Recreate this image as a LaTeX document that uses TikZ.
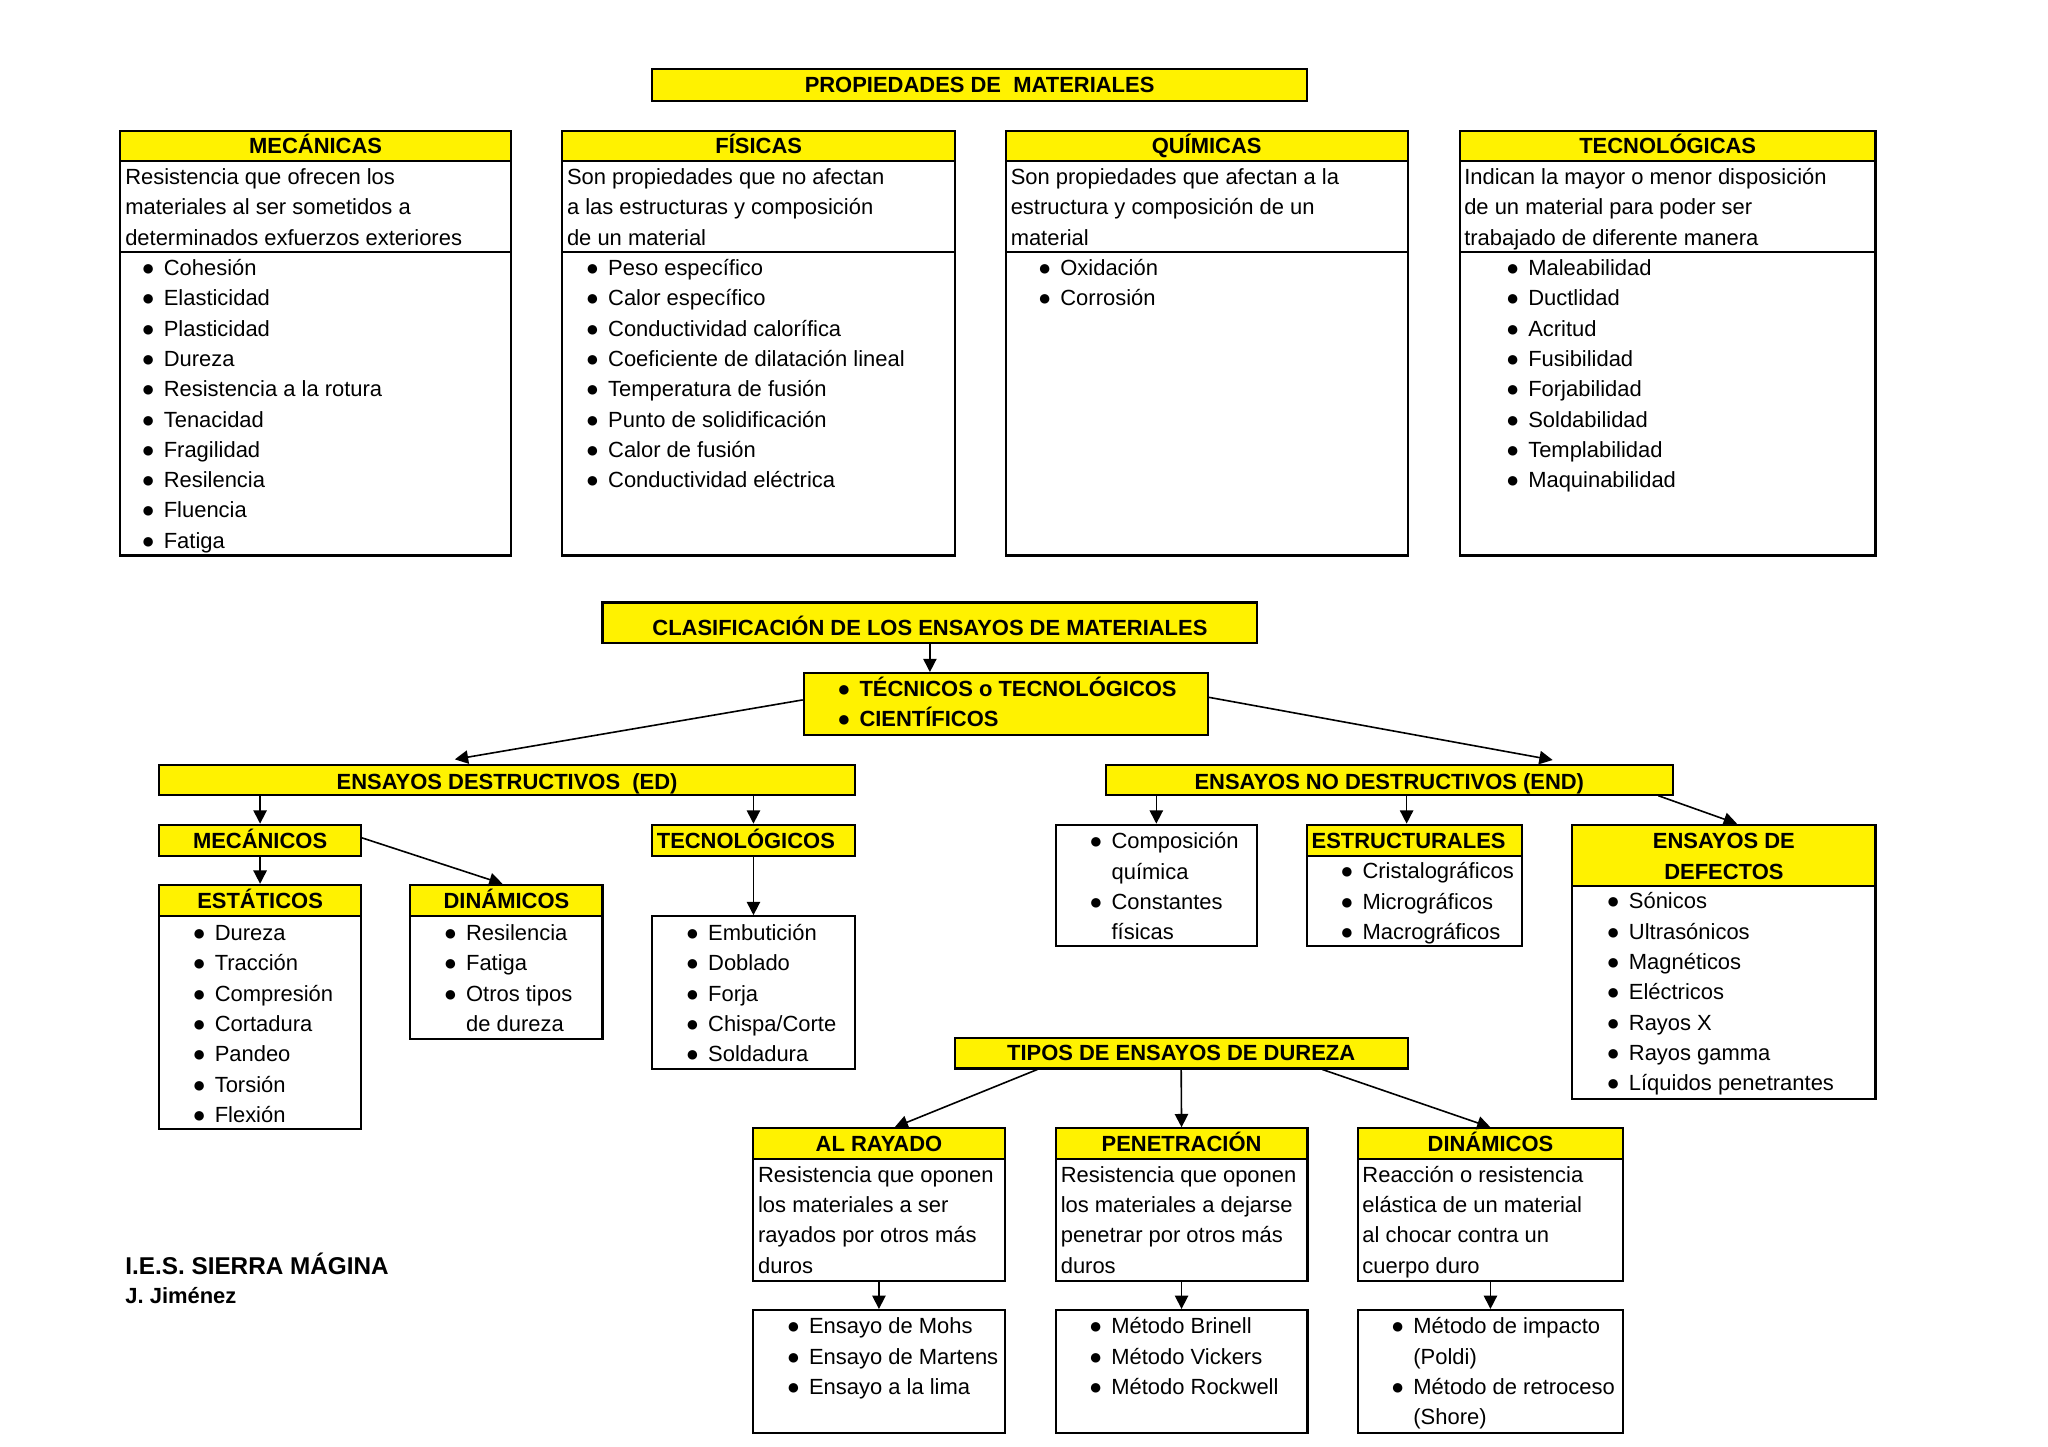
\documentclass[tikz,border=0pt]{standalone}
\usepackage{fontspec}
\setmainfont{Liberation Sans}
\usetikzlibrary{calc,fit,arrows.meta}
\def\bl{\strut\makebox[9.67pt][l]{●}}
\def\cn{\strut\hspace*{9.67pt}}
\tikzset{
	hdr/.style={draw, line width=0.9pt, fill=yellow, inner sep=0pt},
	htx/.style={inner sep=0pt, font=\bfseries\fontsize{9.56}{13.2}\selectfont, text height=6.85pt, text depth=0pt},
	cell/.style={draw, line width=0.9pt, inner sep=0pt},
	txt/.style={anchor=north west, inner sep=0pt, align=left, font=\fontsize{9.56}{13.2}\selectfont},
	arr/.style={-{Triangle[length=5.8pt,width=5.8pt]}, line width=0.7pt}
}
\begin{document}
\begin{tikzpicture}[x=0.02cm,y=-0.02cm]
			%%%%% START %%%%%
			\useasboundingbox (0,0) rectangle (1567,1107);
			
			\node[hdr, fit={(499,53) (1000,77)}] (prop) {};
			\node[htx] (propt) at (prop) {PROPIEDADES DE\ \ MATERIALES};
			
			\node[hdr, fit={(92,100) (391,123)}] (mecH) {};
			\node[cell, fit={(92,123) (391,193)}] (mecD) {};
			\node[cell, fit={(92,193) (391,425)}] (mecL) {};
			\node[htx] (mecHt) at (mecH) {MECÁNICAS};
			\node[txt] (mecDt) at (95.5,124.6) {\strut Resistencia que ofrecen los\\materiales al ser sometidos a\\determinados exfuerzos exteriores};
			\node[txt] (mecLt) at (108,194.2) {\bl Cohesión\\\bl Elasticidad\\\bl Plasticidad\\\bl Dureza\\\bl Resistencia a la rotura\\\bl Tenacidad\\\bl Fragilidad\\\bl Resilencia\\\bl Fluencia\\\bl Fatiga};
			
			\node[hdr, fit={(430,100) (731,123)}] (fisH) {};
			\node[cell, fit={(430,123) (731,193)}] (fisD) {};
			\node[cell, fit={(430,193) (731,425)}] (fisL) {};
			\node[htx] (fisHt) at (fisH) {FÍSICAS};
			\node[txt] (fisDt) at (433.5,124.6) {\strut Son propiedades que no afectan\\a las estructuras y composición\\de un material};
			\node[txt] (fisLt) at (448,194.2) {\bl Peso específico\\\bl Calor específico\\\bl Conductividad calorífica\\\bl Coeficiente de dilatación lineal\\\bl Temperatura de fusión\\\bl Punto de solidificación\\\bl Calor de fusión\\\bl Conductividad eléctrica};
			
			\node[hdr, fit={(769.5,100) (1077,123)}] (quiH) {};
			\node[cell, fit={(769.5,123) (1077,193)}] (quiD) {};
			\node[cell, fit={(769.5,193) (1077,425)}] (quiL) {};
			\node[htx] (quiHt) at (quiH) {QUÍMICAS};
			\node[txt] (quiDt) at (773,124.6) {\strut Son propiedades que afectan a la\\estructura y composición de un\\material};
			\node[txt] (quiLt) at (794,194.2) {\bl Oxidación\\\bl Corrosión};
			
			\node[hdr, fit={(1117,100) (1435,123)}] (tecH) {};
			\node[cell, fit={(1117,123) (1435,193)}] (tecD) {};
			\node[cell, fit={(1117,193) (1435,425)}] (tecL) {};
			\node[htx] (tecHt) at (tecH) {TECNOLÓGICAS};
			\node[txt] (tecDt) at (1120,124.6) {\strut Indican la mayor o menor disposición\\de un material para poder ser\\trabajado de diferente manera};
			\node[txt] (tecLt) at (1152,194.2) {\bl Maleabilidad\\\bl Ductlidad\\\bl Acritud\\\bl Fusibilidad\\\bl Forjabilidad\\\bl Soldabilidad\\\bl Templabilidad\\\bl Maquinabilidad};
			
			\node[hdr, fit={(461,461) (962,492)}] (clas) {};
			\node[htx] (clast) at ($(clas)+(0,3.4)$) {CLASIFICACIÓN DE LOS ENSAYOS DE MATERIALES};
			\node[hdr, fit={(615,515) (924,562)}] (tipo) {};
			\node[txt, font=\bfseries\fontsize{9.56}{13.2}\selectfont] (tipot) at (640.3,516.3) {\bl TÉCNICOS o TECNOLÓGICOS\\\bl CIENTÍFICOS};
			
			\node[hdr, fit={(122,585) (654,608)}] (ed) {};
			\node[htx] (edt) at ($(ed)+(0,1.5)$) {ENSAYOS DESTRUCTIVOS\ \ (ED)};
			\node[hdr, fit={(846,585) (1280,608)}] (noDes) {};
			\node[htx] (noDest) at ($(noDes)+(0,1.5)$) {ENSAYOS NO DESTRUCTIVOS (END)};
			
			\node[hdr, fit={(122,631) (276,655)}] (mec) {};
			\node[htx] (mect) at (mec) {MECÁNICOS};
			\node[hdr, fit={(122,677) (276,701)}] (estH) {};
			\node[htx] (estHt) at (estH) {ESTÁTICOS};
			\node[cell, fit={(122,701) (276,864)}] (estL) {};
			\node[txt] (estLt) at (147,703) {\bl Dureza\\\bl Tracción\\\bl Compresión\\\bl Cortadura\\\bl Pandeo\\\bl Torsión\\\bl Flexión};
			\node[hdr, fit={(314,677) (461,701)}] (dinH) {};
			\node[htx] (dinHt) at (dinH) {DINÁMICOS};
			\node[cell, fit={(314,701) (461,795)}] (dinL) {};
			\node[txt] (dinLt) at (339.3,703) {\bl Resilencia\\\bl Fatiga\\\bl Otros tipos\\\cn de dureza};
			\node[hdr, fit={(499,631) (654,655)}] (tecn) {};
			\node[htx, anchor=west] (tecnt) at ($(tecn.west)+(4,0)$) {TECNOLÓGICOS};
			\node[cell, fit={(499,701) (654,818)}] (tecnL) {};
			\node[txt] (tecnLt) at (524.5,703) {\bl Embutición\\\bl Doblado\\\bl Forja\\\bl Chispa/Corte\\\bl Soldadura};
			
			\node[cell, fit={(808,631) (961.5,724)}] (comp) {};
			\node[txt] (compt) at (833.2,632.8) {\bl Composición\\\cn química\\\bl Constantes\\\cn físicas};
			\node[hdr, fit={(1000,631) (1164.5,655)}] (estrH) {};
			\node[htx, anchor=west] (estrHt) at ($(estrH.west)+(4,0)$) {ESTRUCTURALES};
			\node[cell, fit={(1000,655) (1164.5,724)}] (estrL) {};
			\node[txt] (estrLt) at (1025.2,655.8) {\bl Cristalográficos\\\bl Micrográficos\\\bl Macrográficos};
			\node[hdr, fit={(1203,631) (1435,678)}] (defH) {};
			\node[txt, anchor=north, align=center, font=\bfseries\fontsize{9.56}{13.2}\selectfont] (defHt) at (1319,632.8) {\strut ENSAYOS DE\\DEFECTOS};
			\node[cell, fit={(1203,678) (1435,841)}] (defL) {};
			\node[txt] (defLt) at (1229,678.8) {\bl Sónicos\\\bl Ultrasónicos\\\bl Magnéticos\\\bl Eléctricos\\\bl Rayos X\\\bl Rayos gamma\\\bl Líquidos penetrantes};
			
			\node[hdr, fit={(730.5,794) (1077,817.5)}] (dur) {};
			\node[htx] (durt) at (dur) {TIPOS DE ENSAYOS DE DUREZA};
			
			\node[hdr, fit={(576,863.3) (769,886.8)}] (rayH) {};
			\node[cell, fit={(576,886.8) (769,980)}] (rayD) {};
			\node[cell, fit={(576,1002.3) (769,1096.2)}] (rayL) {};
			\node[htx] (rayHt) at (rayH) {AL RAYADO};
			\node[txt] (rayDt) at (579.7,887.9) {\strut Resistencia que oponen\\los materiales a ser\\rayados por otros más\\duros};
			\node[txt] (rayLt) at (601.7,1003.9) {\bl Ensayo de Mohs\\\bl Ensayo de Martens\\\bl Ensayo a la lima};
			
			\node[hdr, fit={(807.7,863.3) (1000.4,886.8)}] (penH) {};
			\node[cell, fit={(807.7,886.8) (1000.4,980)}] (penD) {};
			\node[cell, fit={(807.7,1002.3) (1000.4,1096.2)}] (penL) {};
			\node[htx] (penHt) at (penH) {PENETRACIÓN};
			\node[txt] (penDt) at (811.3,887.9) {\strut Resistencia que oponen\\los materiales a dejarse\\penetrar por otros más\\duros};
			\node[txt] (penLt) at (833,1003.9) {\bl Método Brinell\\\bl Método Vickers\\\bl Método Rockwell};
			
			\node[hdr, fit={(1039,863.3) (1241.8,886.8)}] (dinbH) {};
			\node[cell, fit={(1039,886.8) (1241.8,980)}] (dinbD) {};
			\node[cell, fit={(1039,1002.3) (1241.8,1096.2)}] (dinbL) {};
			\node[htx] (dinbHt) at (dinbH) {DINÁMICOS};
			\node[txt] (dinbDt) at (1042.1,887.9) {\strut Reacción o resistencia\\elástica de un material\\al chocar contra un\\cuerpo duro};
			\node[txt] (dinbLt) at (1064.1,1003.9) {\bl Método de impacto\\\cn (Poldi)\\\bl Método de retroceso\\\cn (Shore)};
			
			\node[anchor=base west, inner sep=0pt, font=\bfseries\fontsize{10.58}{13}\selectfont] (ies) at (95.6,974.8) {I.E.S. SIERRA MÁGINA};
			\node[anchor=base west, inner sep=0pt, font=\bfseries\fontsize{9.56}{13}\selectfont] (autor) at (95.6,997.7) {J. Jiménez};
			
			\coordinate (edIn) at (348,581);
			\coordinate (ndIn) at (1188,581.5);
			\draw[arr] (clas.south) -- (clas.south |- tipo.north);
			\draw[arr] ($(tipo.west)+(0,-3)$) -- (edIn);
			\draw[arr] ($(tipo.east)+(0,-5)$) -- (ndIn);
			\draw[arr] (ed.south -| mec.north) -- (mec.north);
			\draw[arr] (ed.south -| tecn.north) -- (tecn.north);
			\draw[arr] (mec.south) -- (estH.north);
			\draw[arr] ($(mec.east)+(0,-2)$) -- ($(dinH.north)+(-3,0)$);
			\draw[arr] (tecn.south) -- (tecnL.north);
			\draw[arr] (noDes.south -| comp.north) -- (comp.north);
			\draw[arr] ($(noDes.south -| estrH.north)+(-6,0)$) -- ($(estrH.north)+(-6,0)$);
			\draw[arr] ($(noDes.south east)+(-12,0)$) -- ($(defH.north)+(10,0)$);
			\draw[arr] ($(dur.south west)+(64,0)$) -- ($(rayH.north)+(12,0)$);
			\draw[arr] (dur.south) -- (penH.north);
			\draw[arr] ($(dur.south east)+(-66,0)$) -- (dinbH.north);
			\draw[arr] (rayD.south) -- (rayL.north);
			\draw[arr] (penD.south) -- (penL.north);
			\draw[arr] (dinbD.south) -- (dinbL.north);
			
			%%%%% END %%%%%
		\end{tikzpicture}
\end{document}
